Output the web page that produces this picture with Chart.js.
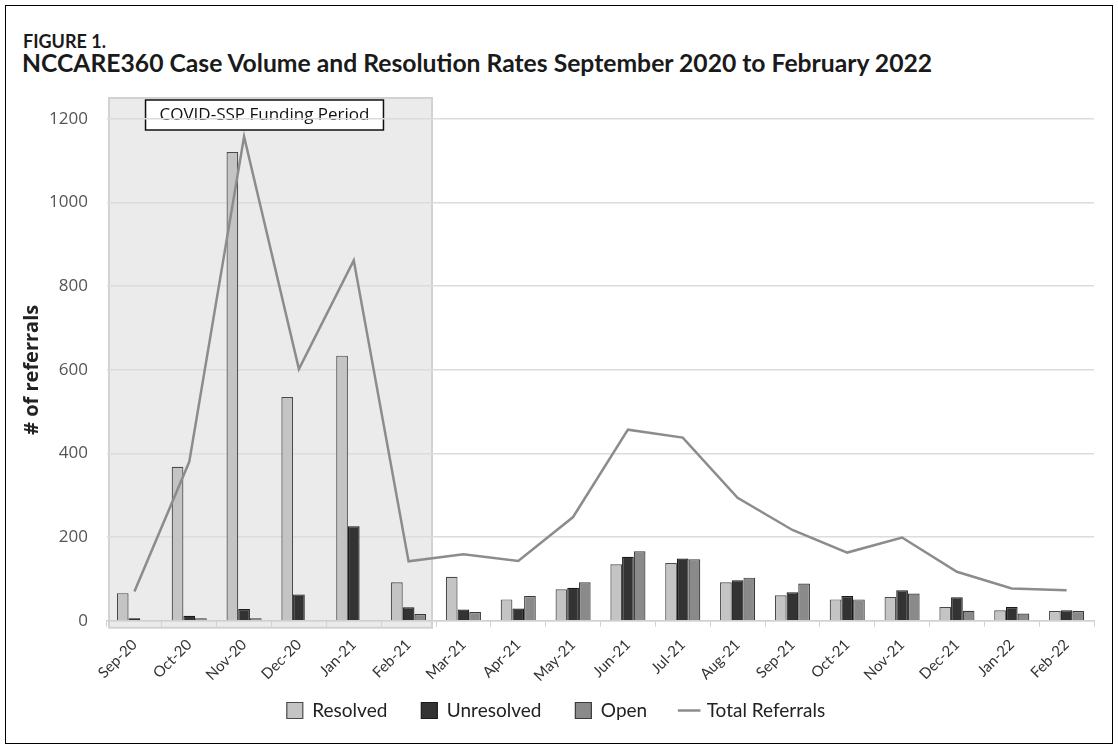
<!DOCTYPE html>
<html>
<head>
<meta charset="utf-8">
<script src="https://cdn.jsdelivr.net/npm/chart.js@4"></script>
<style>
body { margin: 0; background: #fff; }
#frame {
    position: absolute; left: 5px; top: 5px; width: 1106px; height: 737px;
    border: 1px solid #000; background: #fff;
}
#fig { position: absolute; left: 17px; top: 24px; font: bold 18px Lato, sans-serif; color: #1a1a1a; }
#title { position: absolute; left: 16px; top: 42px; font: bold 24.7px Lato, sans-serif; color: #1a1a1a; }
#wrap { position: absolute; left: 0; top: 0; width: 1118px; height: 749px; }
</style>
</head>
<body>
<div id="frame">
    <div id="fig">FIGURE 1.</div>
    <div id="title">NCCARE360 Case Volume and Resolution Rates September 2020 to February 2022</div>
</div>
<div id="wrap"><canvas id="chart"></canvas></div>
<script>

// months on the x axis
const months = ["Sep-20", "Oct-20", "Nov-20", "Dec-20", "Jan-21", "Feb-21", "Mar-21", "Apr-21", "May-21",
    "Jun-21", "Jul-21", "Aug-21", "Sep-21", "Oct-21", "Nov-21", "Dec-21", "Jan-22", "Feb-22"];

const resolved   = [66, 368, 1121, 535, 634, 92, 105, 51, 75, 135, 138, 92, 61, 51, 57, 33, 25, 23];
const unresolved = [6, 12, 28, 63, 226, 32, 27, 29, 79, 153, 149, 97, 68, 59, 73, 56, 33, 25];
const open       = [0, 6, 6, 2, 1, 16, 21, 59, 92, 166, 147, 103, 89, 51, 65, 24, 17, 23];
const totals     = [70, 380, 1158, 602, 862, 142, 159, 143, 248, 457, 438, 294, 217, 163, 199, 117, 77, 73];

const yTicks = [0, 200, 400, 600, 800, 1000, 1200];

// funding period covers the first six months
const fundingStart = 0;
const fundingEnd = 5;
const fundingLabel = "COVID-SSP Funding Period";

// gray box behind the funding months
const fundingBox = {
    id: "fundingBox",
    beforeDraw(chart) {
        const ctx = chart.ctx;
        const x = chart.scales.x;
        const area = chart.chartArea;
        const half = (x.getPixelForValue(1) - x.getPixelForValue(0)) / 2;
        const left = x.getPixelForValue(fundingStart) - half + 2;
        const right = x.getPixelForValue(fundingEnd) + half - 4;
        const top = area.top - 21;
        const bottom = area.bottom + 7;
        ctx.save();
        ctx.fillStyle = "#ebebeb";
        ctx.fillRect(left, top, right - left, bottom - top);
        ctx.strokeStyle = "#d2d2d2";
        ctx.lineWidth = 2;
        ctx.strokeRect(left, top, right - left, bottom - top);

        ctx.font = "17px 'Open Sans', sans-serif";
        const w = ctx.measureText(fundingLabel).width + 28;
        const cx = (left + right) / 2 - 6;
        ctx.fillStyle = "#fff";
        ctx.fillRect(cx - w / 2, top + 2, w, 30);
        ctx.strokeStyle = "#111";
        ctx.lineWidth = 1.5;
        ctx.strokeRect(cx - w / 2, top + 2, w, 30);
        ctx.fillStyle = "#111";
        ctx.textAlign = "center";
        ctx.textBaseline = "middle";
        ctx.fillText(fundingLabel, cx, top + 17);
        ctx.restore();
    }
};

new Chart(document.getElementById("chart"), {
    type: "bar",
    data: {
        labels: months,
        datasets: [
            {
                label: "Resolved",
                data: resolved,
                backgroundColor: "#c4c4c4",
                borderColor: "#4a4a4a",
                borderWidth: 1.2,
                order: 1
            },
            {
                label: "Unresolved",
                data: unresolved,
                backgroundColor: "#333333",
                borderColor: "#1a1a1a",
                borderWidth: 1.2,
                order: 1
            },
            {
                label: "Open",
                data: open,
                backgroundColor: "#8a8a8a",
                borderColor: "#3a3a3a",
                borderWidth: 1.2,
                order: 1
            },
            {
                type: "line",
                label: "Total Referrals",
                data: totals,
                borderColor: "#8c8c8c",
                backgroundColor: "#8c8c8c",
                borderWidth: 2.5,
                pointRadius: 0,
                tension: 0,
                order: 0
            }
        ]
    },
    options: {
        responsive: true,
        maintainAspectRatio: false,
        animation: false,
        layout: {
            padding: { left: 18, right: 24, top: 119, bottom: 19 }
        },
        datasets: {
            bar: {
                categoryPercentage: 0.64,
                barPercentage: 1.0
            }
        },
        plugins: {
            tooltip: { enabled: false },
            legend: {
                position: "bottom",
                labels: {
                    usePointStyle: true,
                    boxWidth: 16,
                    boxHeight: 16,
                    padding: 34,
                    color: "#222",
                    font: { family: "Lato, sans-serif", size: 19 },
                    sort: (a, b) => a.datasetIndex - b.datasetIndex,
                    generateLabels: chart => Chart.defaults.plugins.legend.labels.generateLabels(chart).map(item => {
                        item.pointStyle = item.datasetIndex === 3 ? "line" : "rect";
                        return item;
                    })
                }
            }
        },
        scales: {
            x: {
                // shorter axis box so the labels sit closer to the legend, without clipping them
                afterFit: axis => {
                    axis.height = axis.height - 27;
                    axis._computeLabelArea = () => undefined;
                },
                grid: {
                    display: true,
                    drawOnChartArea: false,
                    offset: true,
                    color: "#d0d0d0",
                    tickLength: 6
                },
                border: { color: "#d0d0d0", width: 1.5 },
                ticks: {
                    minRotation: 45,
                    maxRotation: 45,
                    color: "#333",
                    padding: 9,
                    font: { family: "Lato, sans-serif", size: 15 }
                }
            },
            y: {
                min: 0,
                max: 1200,
                afterFit: axis => { axis.width = 89; },
                afterBuildTicks: axis => { axis.ticks = yTicks.map(v => ({ value: v })); },
                grid: {
                    color: "#dcdcdc",
                    lineWidth: 1.5,
                    drawTicks: false
                },
                border: { display: false },
                ticks: {
                    color: "#555",
                    padding: 19,
                    callback: v => String(v),
                    font: { family: "'Open Sans', sans-serif", size: 17 }
                },
                title: {
                    display: true,
                    text: "# of referrals",
                    color: "#222",
                    padding: { top: 2, bottom: 4 },
                    font: { family: "'Open Sans', sans-serif", size: 20, weight: "bold" }
                }
            }
        }
    },
    plugins: [fundingBox]
});
</script>
</body>
</html>
